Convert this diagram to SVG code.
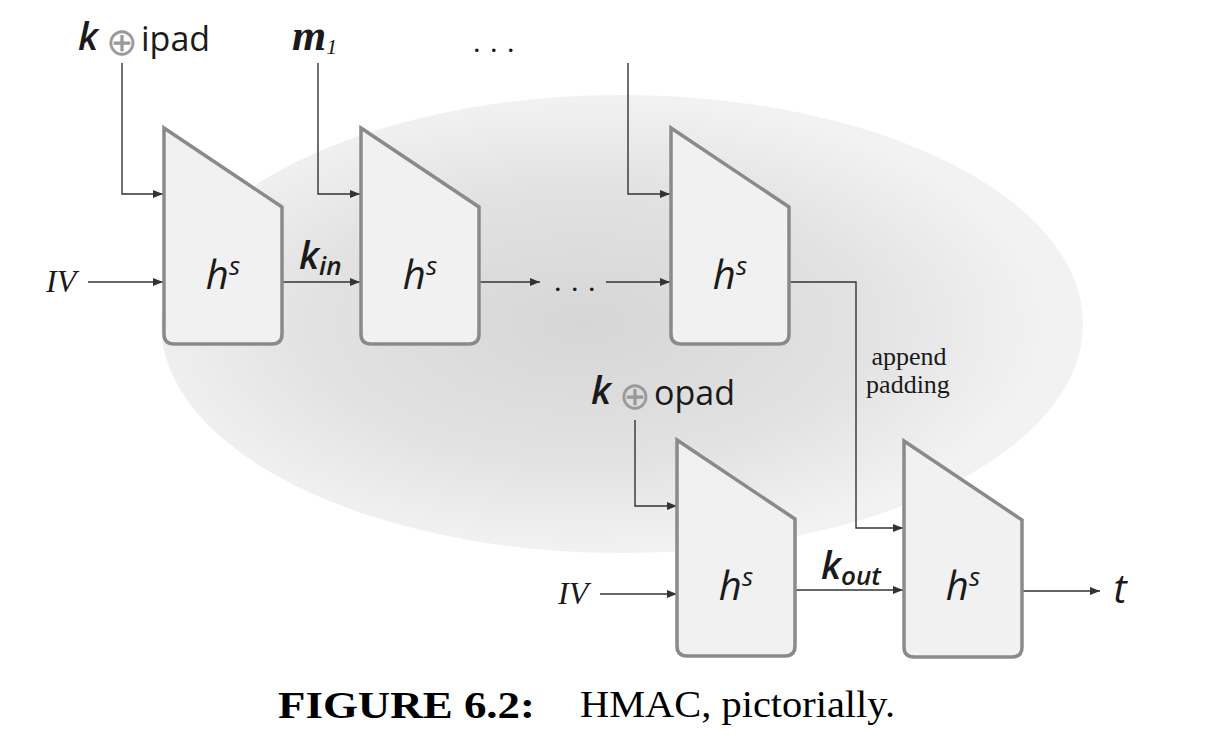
<svg xmlns="http://www.w3.org/2000/svg" width="1222" height="754" viewBox="0 0 1222 754">
<style>
.blk{fill:#f1f1f1;stroke:#8a8a8a;stroke-width:3.5;stroke-linejoin:miter}
.ln{fill:none;stroke:#333;stroke-width:1.4}
.hs{font-family:"Open Sans",sans-serif;font-style:italic;font-weight:500;font-size:40px;fill:#1a1a1a;text-anchor:middle}
.sup{font-size:26px}
.sans{font-family:"Open Sans",sans-serif;font-size:34px;fill:#1a1a1a}
.kk{font-family:"Open Sans",sans-serif;font-style:italic;font-weight:600;font-size:38px;fill:#1a1a1a}
.op{font-family:"DejaVu Sans",sans-serif;font-size:38px;fill:#9a9a9a}
.iv{font-family:"Liberation Serif",serif;font-style:italic;font-size:32px;fill:#1a1a1a}
.ser{font-family:"Liberation Serif",serif;font-size:26px;fill:#1a1a1a;text-anchor:middle}
.dots{font-family:"Liberation Serif",serif;font-size:30px;fill:#1a1a1a}
.cap{font-family:"Liberation Serif",serif;font-size:37px;fill:#000}
</style>
<defs>
<radialGradient id="bg" cx="0.46" cy="0.5" r="0.5">
<stop offset="0" stop-color="#d6d6d6"/>
<stop offset="0.6" stop-color="#e2e2e2"/>
<stop offset="1" stop-color="#f2f2f2"/>
</radialGradient>
<marker id="ah" viewBox="0 0 10 8" refX="10" refY="4" markerWidth="10" markerHeight="8" markerUnits="userSpaceOnUse" orient="auto">
<path d="M0,0 L10,4 L0,8 Z" fill="#333"/>
</marker>
<path id="shape" d="M0,0 L118,79 L118,206 Q118,216 108,216 L10,216 Q0,216 0,206 Z"/>
</defs>
<ellipse id="region" cx="622" cy="324" rx="461" ry="229" fill="url(#bg)"/>
<g id="connectors">
<path class="ln" marker-end="url(#ah)" d="M122,63 V194 H163"/>
<path class="ln" marker-end="url(#ah)" d="M318,63 V194 H360"/>
<path class="ln" marker-end="url(#ah)" d="M628,63 V194 H670"/>
<path class="ln" marker-end="url(#ah)" d="M88,282 H163"/>
<path class="ln" marker-end="url(#ah)" d="M282,282 H360"/>
<path class="ln" marker-end="url(#ah)" d="M478,282 H540"/>
<path class="ln" marker-end="url(#ah)" d="M606,282 H670"/>
<path class="ln" marker-end="url(#ah)" d="M788,282 H856 V528 H903"/>
<path class="ln" marker-end="url(#ah)" d="M635,420 V506 H677"/>
<path class="ln" marker-end="url(#ah)" d="M600,594 H677"/>
<path class="ln" marker-end="url(#ah)" d="M793,590 H903"/>
<path class="ln" marker-end="url(#ah)" d="M1021,591 H1100"/>
</g>
<g id="h1"><use href="#shape" class="blk" x="164" y="128"/><text class="hs" x="223" y="289">h<tspan class="sup" dy="-14">s</tspan></text></g>
<g id="h2"><use href="#shape" class="blk" x="361" y="128"/><text class="hs" x="420" y="289">h<tspan class="sup" dy="-14">s</tspan></text></g>
<g id="h3"><use href="#shape" class="blk" x="671" y="128"/><text class="hs" x="730" y="289">h<tspan class="sup" dy="-14">s</tspan></text></g>
<g id="h4"><use href="#shape" class="blk" x="677" y="440"/><text class="hs" x="736" y="600">h<tspan class="sup" dy="-14">s</tspan></text></g>
<g id="h5"><use href="#shape" class="blk" x="904" y="441"/><text class="hs" x="963" y="600">h<tspan class="sup" dy="-14">s</tspan></text></g>
<g id="labels">
<text x="78" y="50"><tspan class="kk">k</tspan><tspan class="op" x="106" y="55">⊕</tspan><tspan class="sans" x="141" y="51">ipad</tspan></text>
<text x="292" y="50" font-family="Liberation Serif,serif" font-style="italic" font-weight="bold" font-size="44" fill="#1a1a1a">m<tspan font-size="22" font-weight="normal" dy="4">1</tspan></text>
<text class="dots" x="473 490 507" y="52">...</text>
<text class="iv" x="46" y="292">IV</text>
<text class="kk" x="299" y="269" font-weight="500" font-size="40">k<tspan font-size="26" dy="6">in</tspan></text>
<text class="dots" x="554 571 588" y="291">...</text>
<text class="ser" x="909" y="365">append</text>
<text class="ser" x="908" y="393">padding</text>
<text x="591" y="404"><tspan class="kk">k</tspan><tspan class="op" x="619" y="409">⊕</tspan><tspan class="sans" x="654" y="405">opad</tspan></text>
<text class="iv" x="558" y="604">IV</text>
<text class="kk" x="821" y="579" font-weight="500" font-size="40">k<tspan font-size="26" dy="6">out</tspan></text>
<text class="hs" x="1120" y="603">t</text>
</g>
<g id="caption">
<text class="cap" x="278" y="718" font-weight="bold" textLength="257" lengthAdjust="spacingAndGlyphs">FIGURE 6.2:</text>
<text class="cap" x="580" y="717" textLength="315" lengthAdjust="spacingAndGlyphs">HMAC, pictorially.</text>
</g>
</svg>
